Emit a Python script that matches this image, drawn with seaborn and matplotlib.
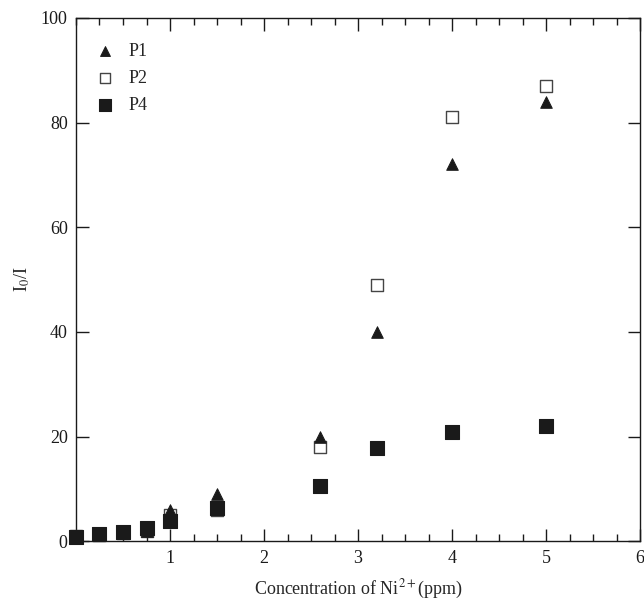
import numpy as np
import pandas as pd
import seaborn as sns
import matplotlib
matplotlib.use('Agg')
import matplotlib.pyplot as plt
from matplotlib.ticker import MultipleLocator, FixedLocator

# data
conc = [0, 0.25, 0.5, 0.75, 1, 1.5, 2.6, 3.2, 4, 5]
p1 = [1, 1.2, 1.5, 2, 6, 9, 20, 40, 72, 84]
p2 = [1, 1.2, 1.5, 2, 5, 6, 18, 49, 81, 87]
p4 = [0.8, 1.3, 1.7, 2.5, 3.8, 6.3, 10.5, 17.8, 20.9, 22]

df = pd.concat([
    pd.DataFrame({'conc': conc, 'ratio': p1, 'sample': 'P1'}),
    pd.DataFrame({'conc': conc, 'ratio': p2, 'sample': 'P2'}),
    pd.DataFrame({'conc': conc, 'ratio': p4, 'sample': 'P4'}),
])

sns.set_style('ticks')
plt.rcParams['font.family'] = ['Liberation Serif', 'DejaVu Serif']
plt.rcParams['mathtext.fontset'] = 'stix'

fig = plt.figure(figsize=(6.44, 6.0), dpi=100)
ax = fig.add_axes([0.118, 0.098, 0.876, 0.872])

styles = {
    'P1': dict(marker='^', color='#1a1a1a', edgecolor='#1a1a1a', s=70),
    'P2': dict(marker='s', color='white', edgecolor='#444444', s=85, linewidth=1.0),
    'P4': dict(marker='s', color='#1a1a1a', edgecolor='#1a1a1a', s=95),
}
for name in ['P2', 'P1', 'P4']:
    sub = df[df['sample'] == name]
    sns.scatterplot(data=sub, x='conc', y='ratio', ax=ax, label=name, zorder=3,
                    clip_on=False, **styles[name])

ax.set_xlim(0, 6)
ax.set_ylim(0, 100)
ax.xaxis.set_major_locator(FixedLocator([1, 2, 3, 4, 5, 6]))
ax.xaxis.set_minor_locator(MultipleLocator(0.25))
ax.yaxis.set_major_locator(MultipleLocator(20))
ax.tick_params(which='both', direction='in', top=True, right=True, labelsize=13, colors='#1a1a1a')
ax.tick_params(which='major', length=9, width=1, pad=6)
ax.tick_params(which='minor', length=5, width=1)
for sp in ax.spines.values():
    sp.set_linewidth(1)
    sp.set_color('#1a1a1a')

ax.set_xlabel('Concentration of Ni$^{2+}$(ppm)', fontsize=13, labelpad=8)
ax.set_ylabel('I$_0$/I', fontsize=13, labelpad=6)

h, l = ax.get_legend_handles_labels()
order = [l.index('P1'), l.index('P2'), l.index('P4')]
ax.legend([h[i] for i in order], [l[i] for i in order], loc='upper left',
          bbox_to_anchor=(-0.012, 0.987),
          frameon=False, fontsize=13, handletextpad=0.3, borderaxespad=0.6,
          labelspacing=0.55, markerscale=0.85)

fig.savefig('out.png', dpi=100)
